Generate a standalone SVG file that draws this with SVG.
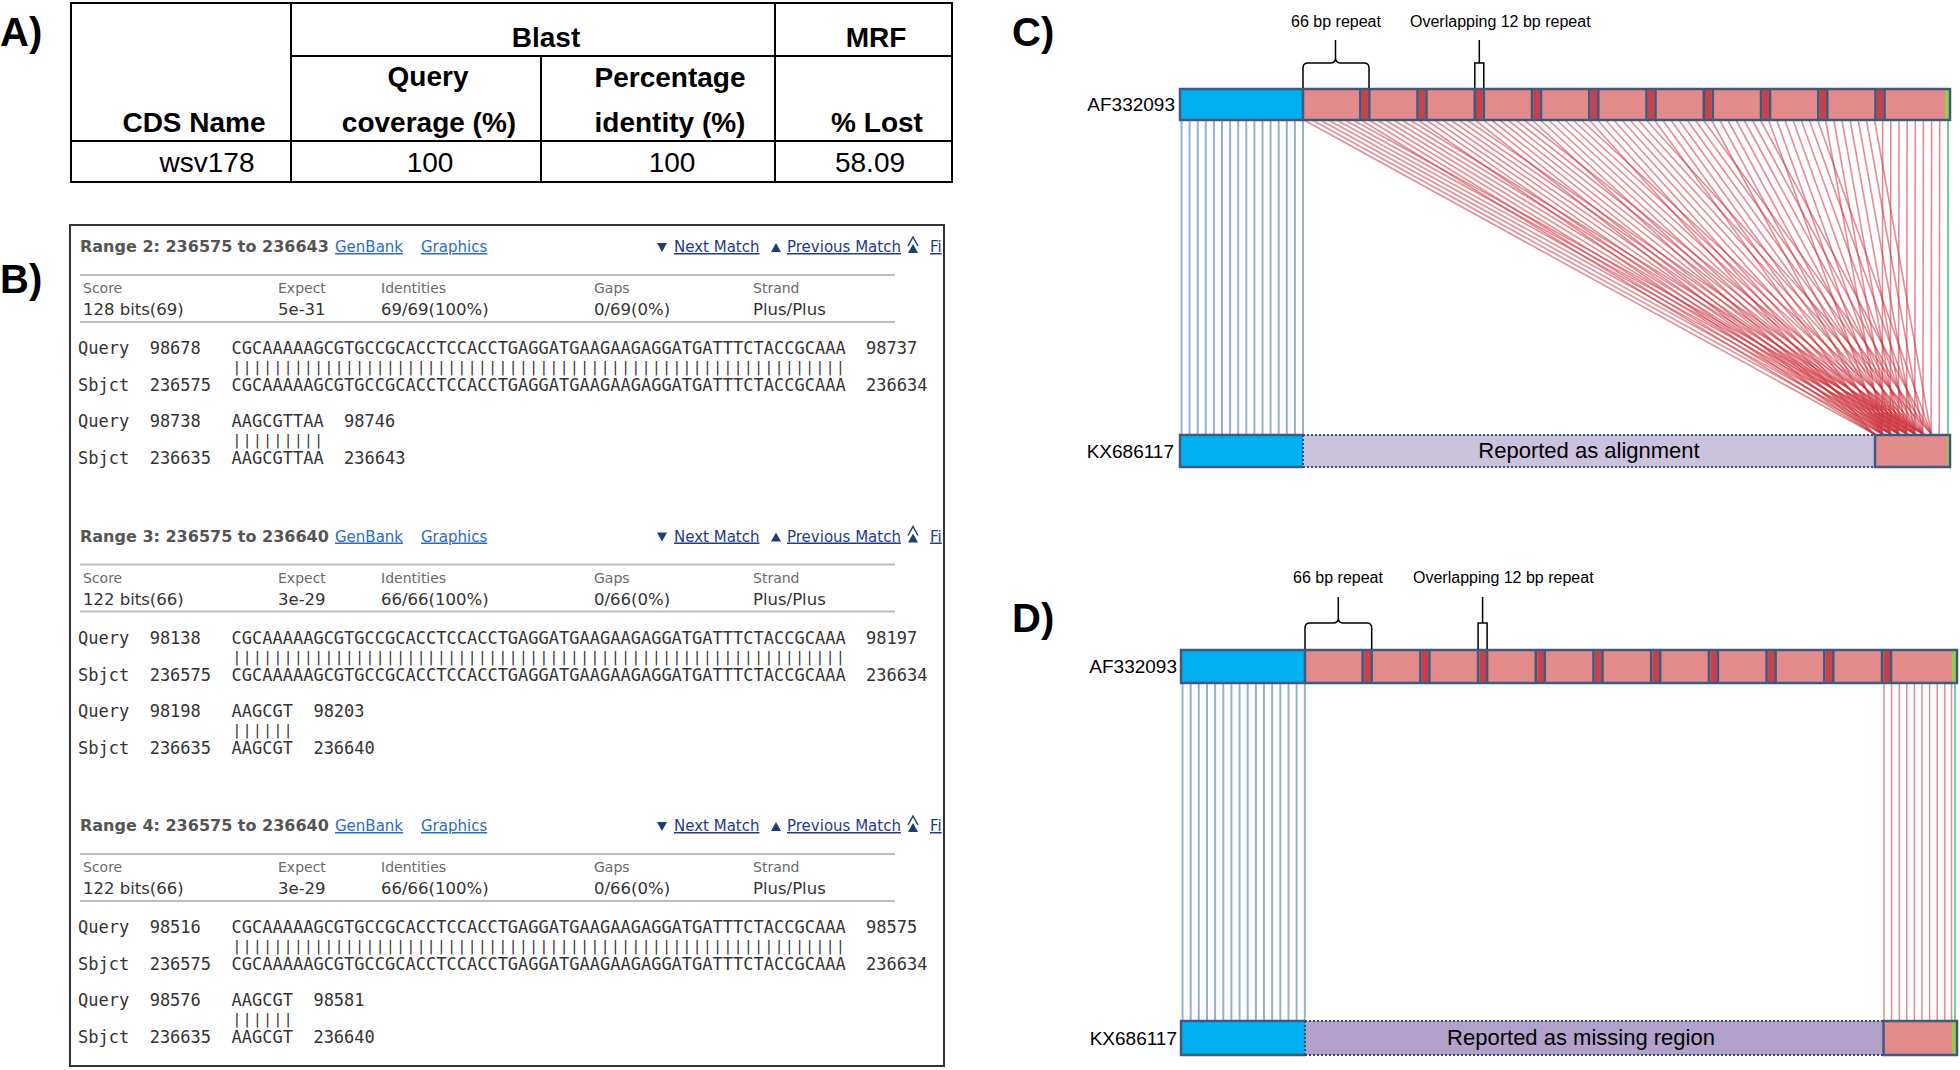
<svg xmlns="http://www.w3.org/2000/svg" width="1960" height="1070" viewBox="0 0 1960 1070">
<style>
.lbl{font-family:"Liberation Sans",Arial,sans-serif;font-weight:bold;font-size:40px;fill:#000}
.th{font-family:"Liberation Sans",Arial,sans-serif;font-weight:bold;font-size:28px;fill:#000;text-anchor:middle}
.td{font-family:"Liberation Sans",Arial,sans-serif;font-size:28px;fill:#000;text-anchor:middle}
.tl{stroke:#000;stroke-width:2;fill:none}
.rng{font-family:"DejaVu Sans",Verdana,sans-serif;font-weight:bold;font-size:16px;fill:#555}
.lnk{font-family:"DejaVu Sans",Verdana,sans-serif;font-size:15px;fill:#2b6cc4;text-decoration:underline}
.nav{font-family:"DejaVu Sans",Verdana,sans-serif;font-size:15px;fill:#1f3b8c;text-decoration:underline}
.hd{font-family:"DejaVu Sans",Verdana,sans-serif;font-size:14px;fill:#6a6a6a}
.vl{font-family:"DejaVu Sans",Verdana,sans-serif;font-size:16.5px;fill:#333}
.mono{font-family:"DejaVu Sans Mono","Liberation Mono",monospace;font-size:17px;fill:#333;white-space:pre}
.pipe{font-family:"DejaVu Sans Mono","Liberation Mono",monospace;font-size:14.5px;letter-spacing:1.5px;fill:#333}
.sep{stroke:#bdbdbd;stroke-width:2}
.tri{fill:#1e3f73}
.acc{font-family:"Liberation Sans",Arial,sans-serif;font-size:19px;fill:#000;text-anchor:end}
.ann{font-family:"Liberation Sans",Arial,sans-serif;font-size:16px;fill:#000}
.rep{font-family:"Liberation Sans",Arial,sans-serif;font-size:22px;fill:#000;text-anchor:middle}
.blue{fill:#00b0f0}
.pink{fill:#e38a8b}
.strip{fill:#c8404a}
.green{fill:#92d050}
.out{fill:none;stroke:#41597d;stroke-width:2.5}
.dot{stroke:#2f4a7a;stroke-width:2;stroke-dasharray:2 2}
.brace{fill:none;stroke:#000;stroke-width:1.5}
.bl{stroke:#93b2d3;stroke-width:2}
.rl{stroke:#cc2f3b;stroke-opacity:0.55;stroke-width:1.6}
.rv{stroke:#df8f95;stroke-width:1.5}
.gl{stroke:#74cf98;stroke-width:2}
</style>
<defs>
<clipPath id="boxclip"><rect x="70" y="225" width="873" height="840"/></clipPath>
</defs>

<!-- Panel A -->
<g id="panel-a">
<text class="lbl" x="0" y="46">A)</text>
<g id="table">
<rect class="tl" x="71" y="3" width="881" height="179"/>
<line class="tl" x1="291" y1="56" x2="952" y2="56"/>
<line class="tl" x1="71" y1="141" x2="952" y2="141"/>
<line class="tl" x1="291" y1="3" x2="291" y2="182"/>
<line class="tl" x1="541" y1="56" x2="541" y2="182"/>
<line class="tl" x1="775" y1="3" x2="775" y2="182"/>
<text class="th" x="546" y="47">Blast</text>
<text class="th" x="876" y="47">MRF</text>
<text class="th" x="428" y="86">Query</text>
<text class="th" x="670" y="87">Percentage</text>
<text class="th" x="194" y="132">CDS Name</text>
<text class="th" x="429" y="132">coverage (%)</text>
<text class="th" x="670" y="132">identity (%)</text>
<text class="th" x="877" y="132">% Lost</text>
<text class="td" x="207" y="172">wsv178</text>
<text class="td" x="430" y="172">100</text>
<text class="td" x="672" y="172">100</text>
<text class="td" x="870" y="172">58.09</text>
</g>
</g>

<!-- Panel B -->
<g id="panel-b">
<text class="lbl" x="0" y="293">B)</text>
<rect x="70" y="225" width="874" height="841" fill="none" stroke="#333" stroke-width="2"/>
<g id="range2">
<text class="rng" x="80" y="252">Range 2: 236575 to 236643</text>
<text class="lnk" x="335" y="252">GenBank</text>
<text class="lnk" x="421" y="252">Graphics</text>
<polygon class="tri" points="657,243 667,243 662,252"/>
<text class="nav" x="674" y="252">Next Match</text>
<polygon class="tri" points="771,252 781,252 776,243"/>
<text class="nav" x="787" y="252">Previous Match</text>
<polygon class="tri" points="908,253 918,253 913,244"/>
<polyline points="908,246 913,237 918,246" fill="none" stroke="#1e3f73" stroke-width="1.5"/>
<text class="nav" x="930" y="252" clip-path="url(#boxclip)">Fi</text>
<line class="sep" x1="80" y1="275" x2="895" y2="275"/>
<text class="hd" x="83" y="293">Score</text>
<text class="hd" x="278" y="293">Expect</text>
<text class="hd" x="381" y="293">Identities</text>
<text class="hd" x="594" y="293">Gaps</text>
<text class="hd" x="753" y="293">Strand</text>
<text class="vl" x="83" y="315">128 bits(69)</text>
<text class="vl" x="278" y="315">5e-31</text>
<text class="vl" x="381" y="315">69/69(100%)</text>
<text class="vl" x="594" y="315">0/69(0%)</text>
<text class="vl" x="753" y="315">Plus/Plus</text>
<line class="sep" x1="80" y1="322" x2="895" y2="322"/>
<text class="mono" x="78" y="354" xml:space="preserve">Query  98678   CGCAAAAAGCGTGCCGCACCTCCACCTGAGGATGAAGAAGAGGATGATTTCTACCGCAAA  98737</text>
<text class="pipe" x="232.5" y="372">||||||||||||||||||||||||||||||||||||||||||||||||||||||||||||</text>
<text class="mono" x="78" y="391" xml:space="preserve">Sbjct  236575  CGCAAAAAGCGTGCCGCACCTCCACCTGAGGATGAAGAAGAGGATGATTTCTACCGCAAA  236634</text>
<text class="mono" x="78" y="427" xml:space="preserve">Query  98738   AAGCGTTAA  98746</text>
<text class="pipe" x="232.5" y="445">|||||||||</text>
<text class="mono" x="78" y="464" xml:space="preserve">Sbjct  236635  AAGCGTTAA  236643</text>
</g>
<g id="range3" transform="translate(0,289.5)">
<text class="rng" x="80" y="252">Range 3: 236575 to 236640</text>
<text class="lnk" x="335" y="252">GenBank</text>
<text class="lnk" x="421" y="252">Graphics</text>
<polygon class="tri" points="657,243 667,243 662,252"/>
<text class="nav" x="674" y="252">Next Match</text>
<polygon class="tri" points="771,252 781,252 776,243"/>
<text class="nav" x="787" y="252">Previous Match</text>
<polygon class="tri" points="908,253 918,253 913,244"/>
<polyline points="908,246 913,237 918,246" fill="none" stroke="#1e3f73" stroke-width="1.5"/>
<text class="nav" x="930" y="252" clip-path="url(#boxclip)">Fi</text>
<line class="sep" x1="80" y1="275" x2="895" y2="275"/>
<text class="hd" x="83" y="293">Score</text>
<text class="hd" x="278" y="293">Expect</text>
<text class="hd" x="381" y="293">Identities</text>
<text class="hd" x="594" y="293">Gaps</text>
<text class="hd" x="753" y="293">Strand</text>
<text class="vl" x="83" y="315">122 bits(66)</text>
<text class="vl" x="278" y="315">3e-29</text>
<text class="vl" x="381" y="315">66/66(100%)</text>
<text class="vl" x="594" y="315">0/66(0%)</text>
<text class="vl" x="753" y="315">Plus/Plus</text>
<line class="sep" x1="80" y1="322" x2="895" y2="322"/>
<text class="mono" x="78" y="354" xml:space="preserve">Query  98138   CGCAAAAAGCGTGCCGCACCTCCACCTGAGGATGAAGAAGAGGATGATTTCTACCGCAAA  98197</text>
<text class="pipe" x="232.5" y="372">||||||||||||||||||||||||||||||||||||||||||||||||||||||||||||</text>
<text class="mono" x="78" y="391" xml:space="preserve">Sbjct  236575  CGCAAAAAGCGTGCCGCACCTCCACCTGAGGATGAAGAAGAGGATGATTTCTACCGCAAA  236634</text>
<text class="mono" x="78" y="427" xml:space="preserve">Query  98198   AAGCGT  98203</text>
<text class="pipe" x="232.5" y="445">||||||</text>
<text class="mono" x="78" y="464" xml:space="preserve">Sbjct  236635  AAGCGT  236640</text>
</g>
<g id="range4" transform="translate(0,579)">
<text class="rng" x="80" y="252">Range 4: 236575 to 236640</text>
<text class="lnk" x="335" y="252">GenBank</text>
<text class="lnk" x="421" y="252">Graphics</text>
<polygon class="tri" points="657,243 667,243 662,252"/>
<text class="nav" x="674" y="252">Next Match</text>
<polygon class="tri" points="771,252 781,252 776,243"/>
<text class="nav" x="787" y="252">Previous Match</text>
<polygon class="tri" points="908,253 918,253 913,244"/>
<polyline points="908,246 913,237 918,246" fill="none" stroke="#1e3f73" stroke-width="1.5"/>
<text class="nav" x="930" y="252" clip-path="url(#boxclip)">Fi</text>
<line class="sep" x1="80" y1="275" x2="895" y2="275"/>
<text class="hd" x="83" y="293">Score</text>
<text class="hd" x="278" y="293">Expect</text>
<text class="hd" x="381" y="293">Identities</text>
<text class="hd" x="594" y="293">Gaps</text>
<text class="hd" x="753" y="293">Strand</text>
<text class="vl" x="83" y="315">122 bits(66)</text>
<text class="vl" x="278" y="315">3e-29</text>
<text class="vl" x="381" y="315">66/66(100%)</text>
<text class="vl" x="594" y="315">0/66(0%)</text>
<text class="vl" x="753" y="315">Plus/Plus</text>
<line class="sep" x1="80" y1="322" x2="895" y2="322"/>
<text class="mono" x="78" y="354" xml:space="preserve">Query  98516   CGCAAAAAGCGTGCCGCACCTCCACCTGAGGATGAAGAAGAGGATGATTTCTACCGCAAA  98575</text>
<text class="pipe" x="232.5" y="372">||||||||||||||||||||||||||||||||||||||||||||||||||||||||||||</text>
<text class="mono" x="78" y="391" xml:space="preserve">Sbjct  236575  CGCAAAAAGCGTGCCGCACCTCCACCTGAGGATGAAGAAGAGGATGATTTCTACCGCAAA  236634</text>
<text class="mono" x="78" y="427" xml:space="preserve">Query  98576   AAGCGT  98581</text>
<text class="pipe" x="232.5" y="445">||||||</text>
<text class="mono" x="78" y="464" xml:space="preserve">Sbjct  236635  AAGCGT  236640</text>
</g>
</g>

<!-- Panel C -->
<g id="panel-c">
<text class="lbl" x="1012" y="46">C)</text>
<g id="c-connectors">
<g id="c-blue-lines">
<line class="bl" x1="1181.5" y1="120" x2="1181.5" y2="435"/>
<line class="bl" x1="1189.6" y1="120" x2="1189.6" y2="435"/>
<line class="bl" x1="1197.7" y1="120" x2="1197.7" y2="435"/>
<line class="bl" x1="1205.8" y1="120" x2="1205.8" y2="435"/>
<line class="bl" x1="1213.9" y1="120" x2="1213.9" y2="435"/>
<line class="bl" x1="1222" y1="120" x2="1222" y2="435"/>
<line class="bl" x1="1230.1" y1="120" x2="1230.1" y2="435"/>
<line class="bl" x1="1238.2" y1="120" x2="1238.2" y2="435"/>
<line class="bl" x1="1246.3" y1="120" x2="1246.3" y2="435"/>
<line class="bl" x1="1254.4" y1="120" x2="1254.4" y2="435"/>
<line class="bl" x1="1262.5" y1="120" x2="1262.5" y2="435"/>
<line class="bl" x1="1270.6" y1="120" x2="1270.6" y2="435"/>
<line class="bl" x1="1278.7" y1="120" x2="1278.7" y2="435"/>
<line class="bl" x1="1286.8" y1="120" x2="1286.8" y2="435"/>
<line class="bl" x1="1294.9" y1="120" x2="1294.9" y2="435"/>
<line class="bl" x1="1303" y1="120" x2="1303" y2="435"/>
</g>
<g id="c-red-lines">
<line class="rl" x1="1304" y1="120" x2="1876" y2="435"/>
<line class="rl" x1="1312.2" y1="120" x2="1884.2" y2="435"/>
<line class="rl" x1="1320.3" y1="120" x2="1892.3" y2="435"/>
<line class="rl" x1="1328.5" y1="120" x2="1900.5" y2="435"/>
<line class="rl" x1="1336.6" y1="120" x2="1908.6" y2="435"/>
<line class="rl" x1="1344.8" y1="120" x2="1916.8" y2="435"/>
<line class="rl" x1="1352.9" y1="120" x2="1924.9" y2="435"/>
<line class="rl" x1="1361.1" y1="120" x2="1875.8" y2="435"/>
<line class="rl" x1="1369.2" y1="120" x2="1884" y2="435"/>
<line class="rl" x1="1377.4" y1="120" x2="1892.1" y2="435"/>
<line class="rl" x1="1385.5" y1="120" x2="1900.3" y2="435"/>
<line class="rl" x1="1393.7" y1="120" x2="1908.4" y2="435"/>
<line class="rl" x1="1401.8" y1="120" x2="1916.6" y2="435"/>
<line class="rl" x1="1410" y1="120" x2="1924.7" y2="435"/>
<line class="rl" x1="1418.1" y1="120" x2="1875.6" y2="435"/>
<line class="rl" x1="1426.3" y1="120" x2="1883.8" y2="435"/>
<line class="rl" x1="1434.4" y1="120" x2="1891.9" y2="435"/>
<line class="rl" x1="1442.6" y1="120" x2="1900.1" y2="435"/>
<line class="rl" x1="1450.7" y1="120" x2="1908.2" y2="435"/>
<line class="rl" x1="1458.9" y1="120" x2="1916.4" y2="435"/>
<line class="rl" x1="1467" y1="120" x2="1924.5" y2="435"/>
<line class="rl" x1="1475.2" y1="120" x2="1875.4" y2="435"/>
<line class="rl" x1="1483.3" y1="120" x2="1883.6" y2="435"/>
<line class="rl" x1="1491.5" y1="120" x2="1891.7" y2="435"/>
<line class="rl" x1="1499.6" y1="120" x2="1899.9" y2="435"/>
<line class="rl" x1="1507.8" y1="120" x2="1908" y2="435"/>
<line class="rl" x1="1515.9" y1="120" x2="1916.2" y2="435"/>
<line class="rl" x1="1524.1" y1="120" x2="1924.3" y2="435"/>
<line class="rl" x1="1532.2" y1="120" x2="1875.2" y2="435"/>
<line class="rl" x1="1540.4" y1="120" x2="1883.4" y2="435"/>
<line class="rl" x1="1548.5" y1="120" x2="1891.5" y2="435"/>
<line class="rl" x1="1556.7" y1="120" x2="1899.7" y2="435"/>
<line class="rl" x1="1564.8" y1="120" x2="1907.8" y2="435"/>
<line class="rl" x1="1573" y1="120" x2="1916" y2="435"/>
<line class="rl" x1="1581.1" y1="120" x2="1924.1" y2="435"/>
<line class="rl" x1="1589.3" y1="120" x2="1875" y2="435"/>
<line class="rl" x1="1597.4" y1="120" x2="1883.2" y2="435"/>
<line class="rl" x1="1605.6" y1="120" x2="1891.3" y2="435"/>
<line class="rl" x1="1613.7" y1="120" x2="1899.5" y2="435"/>
<line class="rl" x1="1621.9" y1="120" x2="1907.6" y2="435"/>
<line class="rl" x1="1630" y1="120" x2="1915.8" y2="435"/>
<line class="rl" x1="1638.2" y1="120" x2="1923.9" y2="435"/>
<line class="rl" x1="1646.3" y1="120" x2="1932.1" y2="435"/>
<line class="rl" x1="1654.5" y1="120" x2="1883" y2="435"/>
<line class="rl" x1="1662.6" y1="120" x2="1891.1" y2="435"/>
<line class="rl" x1="1670.8" y1="120" x2="1899.3" y2="435"/>
<line class="rl" x1="1678.9" y1="120" x2="1907.4" y2="435"/>
<line class="rl" x1="1687.1" y1="120" x2="1915.6" y2="435"/>
<line class="rl" x1="1695.2" y1="120" x2="1923.7" y2="435"/>
<line class="rl" x1="1703.4" y1="120" x2="1931.9" y2="435"/>
<line class="rl" x1="1711.5" y1="120" x2="1882.8" y2="435"/>
<line class="rl" x1="1719.7" y1="120" x2="1890.9" y2="435"/>
<line class="rl" x1="1727.8" y1="120" x2="1899.1" y2="435"/>
<line class="rl" x1="1736" y1="120" x2="1907.2" y2="435"/>
<line class="rl" x1="1744.1" y1="120" x2="1915.4" y2="435"/>
<line class="rl" x1="1752.3" y1="120" x2="1923.5" y2="435"/>
<line class="rl" x1="1760.4" y1="120" x2="1931.7" y2="435"/>
<line class="rl" x1="1768.6" y1="120" x2="1882.6" y2="435"/>
<line class="rl" x1="1776.7" y1="120" x2="1890.7" y2="435"/>
<line class="rl" x1="1784.9" y1="120" x2="1898.9" y2="435"/>
<line class="rl" x1="1793" y1="120" x2="1907" y2="435"/>
<line class="rl" x1="1801.2" y1="120" x2="1915.2" y2="435"/>
<line class="rl" x1="1809.3" y1="120" x2="1923.3" y2="435"/>
<line class="rl" x1="1817.5" y1="120" x2="1931.5" y2="435"/>
<line class="rl" x1="1825.6" y1="120" x2="1882.4" y2="435"/>
<line class="rl" x1="1833.8" y1="120" x2="1890.5" y2="435"/>
<line class="rl" x1="1841.9" y1="120" x2="1898.7" y2="435"/>
<line class="rl" x1="1850.1" y1="120" x2="1906.8" y2="435"/>
<line class="rl" x1="1858.2" y1="120" x2="1915" y2="435"/>
<line class="rl" x1="1866.4" y1="120" x2="1923.1" y2="435"/>
<line class="rl" x1="1874.5" y1="120" x2="1931.3" y2="435"/>
<line class="rl" x1="1882.7" y1="120" x2="1882.2" y2="435"/>
<line class="rl" x1="1890.8" y1="120" x2="1890.3" y2="435"/>
<line class="rl" x1="1899" y1="120" x2="1898.5" y2="435"/>
<line class="rl" x1="1907.1" y1="120" x2="1906.6" y2="435"/>
<line class="rl" x1="1915.3" y1="120" x2="1914.8" y2="435"/>
<line class="rl" x1="1923.4" y1="120" x2="1922.9" y2="435"/>
<line class="rl" x1="1931.6" y1="120" x2="1931.1" y2="435"/>
<line class="rl" x1="1939.7" y1="120" x2="1939.2" y2="435"/>
</g>
<line class="gl" x1="1948" y1="120" x2="1948" y2="435"/>
</g>
<g id="c-af332093">
<text class="acc" x="1175" y="111">AF332093</text>
<rect class="blue" x="1180" y="89" width="123" height="31"/>
<rect class="pink" x="1303" y="89" width="642" height="31"/>
<rect class="green" x="1945" y="89" width="5" height="31"/>
<rect class="strip" x="1361.5" y="89" width="6.5" height="31"/>
<rect class="strip" x="1418.8" y="89" width="6.5" height="31"/>
<rect class="strip" x="1476" y="89" width="6.5" height="31"/>
<rect class="strip" x="1533.3" y="89" width="6.5" height="31"/>
<rect class="strip" x="1590.5" y="89" width="6.5" height="31"/>
<rect class="strip" x="1647.8" y="89" width="6.5" height="31"/>
<rect class="strip" x="1705" y="89" width="6.5" height="31"/>
<rect class="strip" x="1762.3" y="89" width="6.5" height="31"/>
<rect class="strip" x="1819.5" y="89" width="6.5" height="31"/>
<rect class="strip" x="1876.8" y="89" width="6.5" height="31"/>
<path class="out" d="M1303 89V120 M1360.3 89V120 M1369.3 89V120 M1417.5 89V120 M1426.5 89V120 M1474.8 89V120 M1483.8 89V120 M1532 89V120 M1541 89V120 M1589.3 89V120 M1598.3 89V120 M1646.5 89V120 M1655.5 89V120 M1703.8 89V120 M1712.8 89V120 M1761 89V120 M1770 89V120 M1818.3 89V120 M1827.3 89V120 M1875.5 89V120 M1884.5 89V120"/>
<rect class="out" x="1180" y="89" width="770" height="31"/>
</g>
<g id="c-annotations">
<text class="ann" x="1336" y="27" text-anchor="middle">66 bp repeat</text>
<path class="brace" d="M1303 88V68Q1303 63 1308 63H1330Q1335.5 63 1335.5 58V40M1335.5 58Q1335.5 63 1341 63H1364Q1369 63 1369 68V88"/>
<text class="ann" x="1410" y="27">Overlapping 12 bp repeat</text>
<path class="brace" d="M1474.8 88V63H1483.8V88M1479.3 63V40"/>
</g>
<g id="c-kx686117">
<text class="acc" x="1174" y="458">KX686117</text>
<rect class="blue" x="1180" y="435" width="123" height="32"/>
<rect x="1303" y="435" width="572" height="32" fill="#cbc2dd"/>
<rect class="pink" x="1875" y="435" width="72" height="32"/>
<rect class="green" x="1947" y="435" width="3" height="32"/>
<path class="dot" d="M1303 435H1875M1303 467H1875M1303 435V467"/>
<path class="out" d="M1303 467H1180V435H1303"/>
<rect class="out" x="1875" y="435" width="75" height="32"/>
<text class="rep" x="1589" y="458">Reported as alignment</text>
</g>
</g>

<!-- Panel D -->
<g id="panel-d">
<text class="lbl" x="1012" y="632">D)</text>
<g id="d-connectors">
<g id="d-blue-lines">
<line class="bl" x1="1182.5" y1="683" x2="1182.5" y2="1021"/>
<line class="bl" x1="1190.7" y1="683" x2="1190.7" y2="1021"/>
<line class="bl" x1="1198.8" y1="683" x2="1198.8" y2="1021"/>
<line class="bl" x1="1207" y1="683" x2="1207" y2="1021"/>
<line class="bl" x1="1215.1" y1="683" x2="1215.1" y2="1021"/>
<line class="bl" x1="1223.3" y1="683" x2="1223.3" y2="1021"/>
<line class="bl" x1="1231.4" y1="683" x2="1231.4" y2="1021"/>
<line class="bl" x1="1239.6" y1="683" x2="1239.6" y2="1021"/>
<line class="bl" x1="1247.7" y1="683" x2="1247.7" y2="1021"/>
<line class="bl" x1="1255.9" y1="683" x2="1255.9" y2="1021"/>
<line class="bl" x1="1264" y1="683" x2="1264" y2="1021"/>
<line class="bl" x1="1272.2" y1="683" x2="1272.2" y2="1021"/>
<line class="bl" x1="1280.3" y1="683" x2="1280.3" y2="1021"/>
<line class="bl" x1="1288.5" y1="683" x2="1288.5" y2="1021"/>
<line class="bl" x1="1296.6" y1="683" x2="1296.6" y2="1021"/>
<line class="bl" x1="1304.8" y1="683" x2="1304.8" y2="1021"/>
</g>
<g id="d-red-lines">
<line class="rv" x1="1884" y1="683" x2="1884" y2="1021"/>
<line class="rv" x1="1891.6" y1="683" x2="1891.6" y2="1021"/>
<line class="rv" x1="1899.2" y1="683" x2="1899.2" y2="1021"/>
<line class="rv" x1="1906.8" y1="683" x2="1906.8" y2="1021"/>
<line class="rv" x1="1914.4" y1="683" x2="1914.4" y2="1021"/>
<line class="rv" x1="1922" y1="683" x2="1922" y2="1021"/>
<line class="rv" x1="1929.6" y1="683" x2="1929.6" y2="1021"/>
<line class="rv" x1="1937.2" y1="683" x2="1937.2" y2="1021"/>
<line class="rv" x1="1944.8" y1="683" x2="1944.8" y2="1021"/>
<line class="rv" x1="1951.5" y1="683" x2="1951.5" y2="1021"/>
</g>
<line class="gl" x1="1955" y1="683" x2="1955" y2="1021"/>
</g>
<g id="d-af332093">
<text class="acc" x="1177" y="673">AF332093</text>
<rect class="blue" x="1181" y="650" width="124" height="33"/>
<rect class="pink" x="1305" y="650" width="647" height="33"/>
<rect class="green" x="1952" y="650" width="5" height="33"/>
<rect class="strip" x="1364.2" y="650" width="6.5" height="33"/>
<rect class="strip" x="1421.9" y="650" width="6.5" height="33"/>
<rect class="strip" x="1479.6" y="650" width="6.5" height="33"/>
<rect class="strip" x="1537.3" y="650" width="6.5" height="33"/>
<rect class="strip" x="1595" y="650" width="6.5" height="33"/>
<rect class="strip" x="1652.7" y="650" width="6.5" height="33"/>
<rect class="strip" x="1710.4" y="650" width="6.5" height="33"/>
<rect class="strip" x="1768.1" y="650" width="6.5" height="33"/>
<rect class="strip" x="1825.8" y="650" width="6.5" height="33"/>
<rect class="strip" x="1883.5" y="650" width="6.5" height="33"/>
<path class="out" d="M1305 650V683 M1362.7 650V683 M1371.7 650V683 M1420.4 650V683 M1429.4 650V683 M1478.1 650V683 M1487.1 650V683 M1535.8 650V683 M1544.8 650V683 M1593.5 650V683 M1602.5 650V683 M1651.2 650V683 M1660.2 650V683 M1708.9 650V683 M1717.9 650V683 M1766.6 650V683 M1775.6 650V683 M1824.3 650V683 M1833.3 650V683 M1882 650V683 M1891 650V683"/>
<rect class="out" x="1181" y="650" width="776" height="33"/>
</g>
<g id="d-annotations">
<text class="ann" x="1338" y="583" text-anchor="middle">66 bp repeat</text>
<path class="brace" d="M1305 649V628Q1305 623 1310 623H1333Q1338.3 623 1338.3 618V597M1338.3 618Q1338.3 623 1343.6 623H1366.7Q1371.7 623 1371.7 628V649"/>
<text class="ann" x="1413" y="583">Overlapping 12 bp repeat</text>
<path class="brace" d="M1478.1 649V623H1487.1V649M1482.6 623V597"/>
</g>
<g id="d-kx686117">
<text class="acc" x="1177" y="1045">KX686117</text>
<rect class="blue" x="1181" y="1021" width="124" height="34"/>
<rect x="1305" y="1021" width="578.5" height="34" fill="#b2a2cb"/>
<rect class="pink" x="1883.5" y="1021" width="68.5" height="34"/>
<rect class="green" x="1952" y="1021" width="5" height="34"/>
<path class="dot" d="M1305 1021H1883.5M1305 1055H1883.5M1305 1021V1055"/>
<path class="out" d="M1305 1055H1181V1021H1305"/>
<rect class="out" x="1883.5" y="1021" width="73.5" height="34"/>
<text class="rep" x="1581" y="1045">Reported as missing region</text>
</g>
</g>
</svg>
